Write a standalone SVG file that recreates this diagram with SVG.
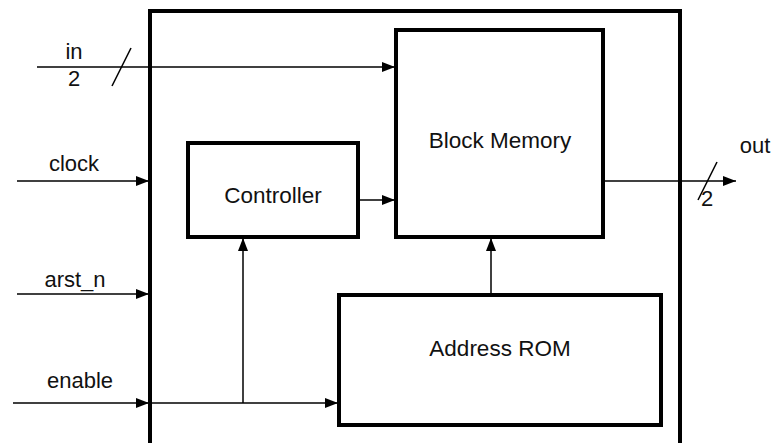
<svg xmlns="http://www.w3.org/2000/svg" width="774" height="443" viewBox="0 0 774 443">
<style>
.box{fill:none;stroke:#000;stroke-width:4}
.wire{fill:none;stroke:#000;stroke-width:1.5}
text{font-family:"Liberation Sans",Arial,sans-serif;font-size:22.5px;fill:#111;text-anchor:middle}
.lbl{font-size:22px}
</style>
<defs>
<marker id="arr" markerUnits="userSpaceOnUse" markerWidth="14" markerHeight="12" refX="13" refY="6" orient="auto">
<path d="M0,1 L13,6 L0,11 Z" fill="#000"/>
</marker>
</defs>
<rect width="774" height="443" fill="#fff"/>
<g id="top">
<rect class="box" x="150" y="11" width="530" height="440"/>
</g>
<g id="block-memory">
<rect class="box" x="396" y="30" width="207" height="207"/>
<text x="500" y="148">Block Memory</text>
</g>
<g id="controller">
<rect class="box" x="188" y="143" width="170" height="94"/>
<text x="273" y="203">Controller</text>
</g>
<g id="address-rom">
<rect class="box" x="339" y="295" width="322" height="130"/>
<text x="500" y="356">Address ROM</text>
</g>
<g id="connectors">
<line class="wire" x1="37" y1="67" x2="395" y2="67" marker-end="url(#arr)"/>
<line class="wire" x1="112" y1="86" x2="131" y2="48"/>
<line class="wire" x1="17" y1="181" x2="149" y2="181" marker-end="url(#arr)"/>
<line class="wire" x1="358" y1="200" x2="395" y2="200" marker-end="url(#arr)"/>
<line class="wire" x1="17" y1="294" x2="149" y2="294" marker-end="url(#arr)"/>
<line class="wire" x1="13" y1="403" x2="149" y2="403" marker-end="url(#arr)"/>
<line class="wire" x1="150" y1="403" x2="338" y2="403" marker-end="url(#arr)"/>
<line class="wire" x1="243" y1="403" x2="243" y2="238" marker-end="url(#arr)"/>
<line class="wire" x1="491" y1="295" x2="491" y2="238" marker-end="url(#arr)"/>
<line class="wire" x1="603" y1="181" x2="736" y2="181" marker-end="url(#arr)"/>
<line class="wire" x1="698" y1="200" x2="717" y2="162"/>
</g>
<g id="labels">
<text class="lbl" x="74" y="59">in</text>
<text class="lbl" x="74" y="86">2</text>
<text class="lbl" x="74" y="171">clock</text>
<text class="lbl" x="75" y="287">arst_n</text>
<text class="lbl" x="80" y="388">enable</text>
<text class="lbl" x="755" y="153">out</text>
<text class="lbl" x="707" y="206">2</text>
</g>
</svg>
